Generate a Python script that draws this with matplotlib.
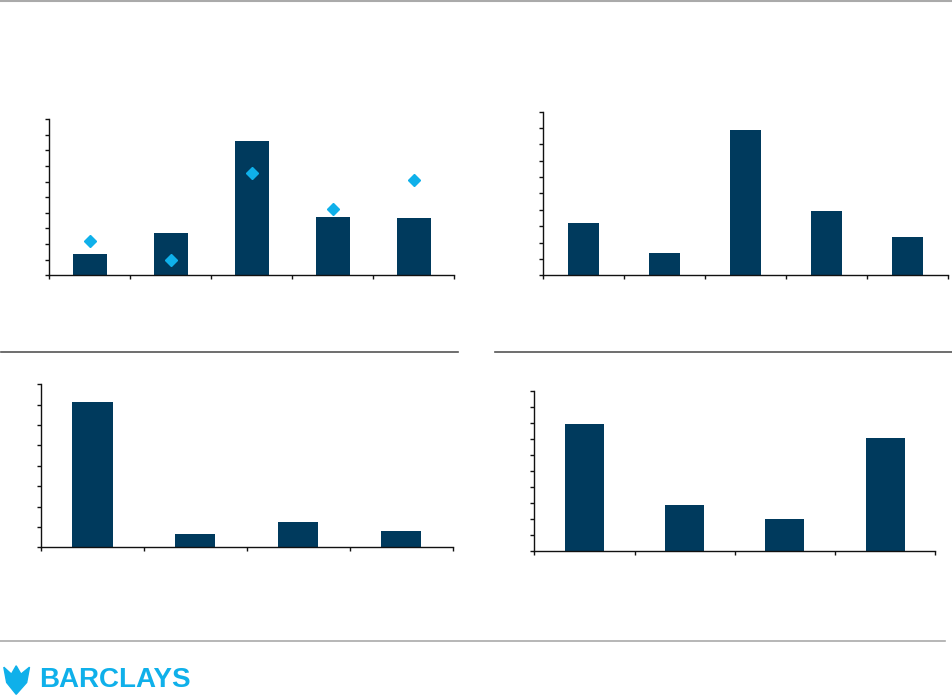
import matplotlib.pyplot as plt
from matplotlib.lines import Line2D
from matplotlib.patches import Polygon

# Data (axis units, labels were not shown)
p1_bars = [1.36, 2.71, 8.59, 3.73, 3.67]
p1_points = [2.20, 0.96, 6.55, 4.22, 6.08]
p2_bars = [3.20, 1.34, 8.88, 3.93, 2.34]
p3_bars = [7.13, 0.65, 1.24, 0.80]
p4_bars = [7.93, 2.88, 2.01, 7.05]

navy = '#003a5d'
cyan = '#0fb0ea'

fig = plt.figure(figsize=(9.52, 6.95), dpi=100)


def panel(rect, bars, ymax, width, points=None):
    ax = fig.add_axes(rect)
    x = range(len(bars))
    ax.bar(x, bars, width=width, color=navy, zorder=2)
    if points is not None:
        ax.plot(x, points, linestyle='none', marker='D', markersize=6,
                color=cyan, markeredgecolor=cyan, zorder=3)
    n = len(bars)
    ax.set_xlim(-0.5, n - 0.5)
    ax.set_ylim(0, ymax)
    ax.set_xticks([i - 0.5 for i in range(n + 1)])
    ax.set_yticks(range(ymax + 1))
    ax.set_xticklabels([])
    ax.set_yticklabels([])
    ax.spines['top'].set_visible(False)
    ax.spines['right'].set_visible(False)
    for s in ('left', 'bottom'):
        ax.spines[s].set_linewidth(1.0)
        ax.spines[s].set_color('#111111')
    ax.tick_params(direction='out', length=3, width=1.0, color='#111111')
    return ax


panel([0.0515, 0.6039, 0.4254, 0.2249], p1_bars, 10, 0.42, p1_points)
panel([0.5701, 0.6039, 0.4254, 0.2354], p2_bars, 10, 0.38)
panel([0.0431, 0.2125, 0.4324, 0.2346], p3_bars, 8, 0.39)
panel([0.5612, 0.2068, 0.4213, 0.2310], p4_bars, 10, 0.39)

# page rules
fig.add_artist(Line2D([0, 1], [0.998, 0.998], color='#aaaaaa', lw=1.5,
                      transform=fig.transFigure))
fig.add_artist(Line2D([0.001, 0.481], [0.493, 0.493], color='#555555', lw=1.2,
                      transform=fig.transFigure))
fig.add_artist(Line2D([0.520, 1.0], [0.493, 0.493], color='#555555', lw=1.2,
                      transform=fig.transFigure))
fig.add_artist(Line2D([0, 0.993], [0.078, 0.078], color='#aaaaaa', lw=1.2,
                      transform=fig.transFigure))

# logo
fig.text(0.041, 0.011, 'BARCLAYS', color=cyan, fontsize=20, fontweight='bold',
         family='Liberation Sans', ha='left', va='baseline')
eagle = Polygon([(0.004, 0.040), (0.012, 0.030), (0.017, 0.042), (0.022, 0.030),
                 (0.031, 0.040), (0.028, 0.018), (0.017, 0.001), (0.007, 0.018)],
                closed=True, color=cyan, transform=fig.transFigure)
fig.add_artist(eagle)

fig.savefig('out.png', dpi=100)
